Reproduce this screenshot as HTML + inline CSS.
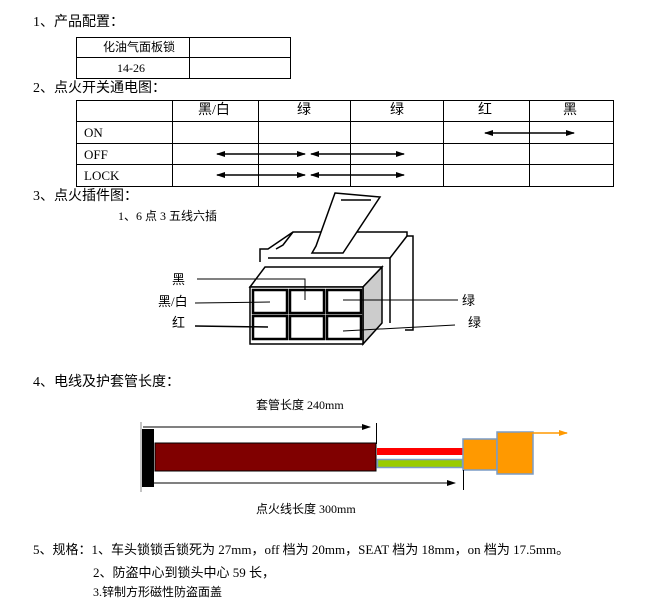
<!DOCTYPE html>
<html><head><meta charset="utf-8"><style>
body{margin:0;background:#fff;width:653px;height:611px;position:relative;overflow:hidden;font-family:"Liberation Serif","Noto Sans CJK SC",serif;font-size:13px;color:#000}
.t{position:absolute;white-space:nowrap;line-height:1}
svg{position:absolute;left:0;top:0}
</style></head><body>
<svg width="653" height="611" viewBox="0 0 653 611">
<defs>
<marker id="a" markerUnits="userSpaceOnUse" markerWidth="9" markerHeight="7" refX="8" refY="3.5" orient="auto"><path d="M0,0.5L9,3.5L0,6.5z" fill="#000"/></marker>
<marker id="b" markerUnits="userSpaceOnUse" markerWidth="9" markerHeight="7" refX="1" refY="3.5" orient="auto"><path d="M9,0.5L0,3.5L9,6.5z" fill="#000"/></marker>
<marker id="o" markerUnits="userSpaceOnUse" markerWidth="9" markerHeight="7" refX="8" refY="3.5" orient="auto"><path d="M0,0.5L9,3.5L0,6.5z" fill="#f90"/></marker>
</defs>
<g stroke="#000" stroke-width="1" fill="none">
<rect x="76.5" y="37.5" width="214" height="41"/>
<line x1="76" y1="57.5" x2="291" y2="57.5"/><line x1="189.5" y1="37" x2="189.5" y2="79"/>
<rect x="76.5" y="100.5" width="537" height="86"/>
<line x1="76" y1="121.5" x2="614" y2="121.5"/><line x1="76" y1="143.5" x2="614" y2="143.5"/><line x1="76" y1="164.5" x2="614" y2="164.5"/>
<line x1="172.5" y1="100" x2="172.5" y2="187"/><line x1="258.5" y1="100" x2="258.5" y2="187"/><line x1="350.5" y1="100" x2="350.5" y2="187"/><line x1="443.5" y1="100" x2="443.5" y2="187"/><line x1="529.5" y1="100" x2="529.5" y2="187"/>
</g>
<g stroke="#000" stroke-width="1.5" marker-start="url(#b)" marker-end="url(#a)">
<line x1="485" y1="133" x2="574" y2="133"/>
<line x1="217" y1="154" x2="305" y2="154"/><line x1="311" y1="154" x2="404" y2="154"/>
<line x1="217" y1="175" x2="305" y2="175"/><line x1="311" y1="175" x2="404" y2="175"/>
</g>
<g stroke="#000" stroke-width="1.5" fill="none">
<polyline points="260,262 260,249 268,249 293,232 407,232 407,236 413,236 413,330 405,330"/>
<polyline points="293,232 283,245 276,249"/>
<line x1="268" y1="258" x2="390" y2="258"/>
<line x1="390" y1="258" x2="407" y2="236"/>
<line x1="390" y1="258" x2="390" y2="323"/>
<polygon points="335,193 380,197 343,253 312,253 316,246" fill="#fff"/>
<line x1="341" y1="200" x2="371" y2="200"/>
<polygon points="250,287 265,267 382,267 363,287" fill="#fff"/>
<polygon points="363,287 382,267 382,323 363,344" fill="#ccc"/>
<rect x="250" y="287" width="113" height="57" fill="#fff"/>
<g stroke-width="2.5">
<rect x="253" y="290" width="34" height="23"/><rect x="290" y="290" width="34" height="23"/><rect x="327" y="290" width="34" height="23"/>
<rect x="253" y="316" width="34" height="23"/><rect x="290" y="316" width="34" height="23"/><rect x="327" y="316" width="34" height="23"/>
</g>
<polyline points="197,279 305,279 305,300" stroke-width="1"/>
<line x1="195" y1="303" x2="270" y2="302" stroke-width="1"/>
<line x1="195" y1="326" x2="268" y2="327" stroke-width="1.5"/>
<line x1="343" y1="300" x2="458" y2="300" stroke-width="1"/>
<line x1="343" y1="331" x2="455" y2="325" stroke-width="1"/>
</g>
<line x1="141" y1="422" x2="141" y2="492" stroke="#888" stroke-width="1"/>
<rect x="142" y="429" width="12" height="58" fill="#000"/>
<rect x="155" y="443" width="221" height="28" fill="#800000" stroke="#000" stroke-width="1"/>
<rect x="377" y="448" width="86" height="7" fill="#f00"/>
<rect x="377.5" y="459.5" width="85" height="8" fill="#9c0" stroke="#7a9cc6" stroke-width="1.5"/>
<rect x="463" y="439" width="34" height="31" fill="#f90" stroke="#7a9cc6" stroke-width="1.5"/>
<rect x="497" y="432" width="36" height="42" fill="#f90" stroke="#7a9cc6" stroke-width="1.5"/>
<line x1="520" y1="433" x2="567" y2="433" stroke="#f90" stroke-width="1.5" marker-end="url(#o)"/>
<line x1="143" y1="427" x2="370" y2="427" stroke="#000" stroke-width="1" marker-end="url(#a)"/>
<line x1="376.5" y1="423" x2="376.5" y2="444" stroke="#000" stroke-width="1"/>
<line x1="153" y1="483" x2="455" y2="483" stroke="#000" stroke-width="1" marker-end="url(#a)"/>
<line x1="463.5" y1="470" x2="463.5" y2="490" stroke="#000" stroke-width="1"/>
</svg>
<div class="t" style="left:33px;top:16px;font-size:14px">1、产品配置：</div>
<div class="t" style="left:103px;top:41px;font-size:12px">化油气面板锁</div>
<div class="t" style="left:117px;top:62px;font-size:12px">14-26</div>
<div class="t" style="left:33px;top:82px;font-size:14px">2、点火开关通电图：</div>
<div class="t" style="left:198px;top:104px;font-size:14px">黑/白</div>
<div class="t" style="left:297px;top:104px;font-size:14px">绿</div>
<div class="t" style="left:390px;top:104px;font-size:14px">绿</div>
<div class="t" style="left:478px;top:104px;font-size:14px">红</div>
<div class="t" style="left:563px;top:104px;font-size:14px">黑</div>
<div class="t" style="left:84px;top:126px">ON</div>
<div class="t" style="left:84px;top:148px">OFF</div>
<div class="t" style="left:84px;top:169px">LOCK</div>
<div class="t" style="left:33px;top:190px;font-size:14px">3、点火插件图：</div>
<div class="t" style="left:118px;top:210px;font-size:12px">1、6 点 3 五线六插</div>
<div class="t" style="left:172px;top:273px">黑</div>
<div class="t" style="left:158px;top:295px">黑/白</div>
<div class="t" style="left:172px;top:316px">红</div>
<div class="t" style="left:462px;top:294px">绿</div>
<div class="t" style="left:468px;top:316px">绿</div>
<div class="t" style="left:33px;top:376px;font-size:14px">4、电线及护套管长度：</div>
<div class="t" style="left:256px;top:399px;font-size:12px">套管长度 240mm</div>
<div class="t" style="left:256px;top:503px;font-size:12px">点火线长度 300mm</div>
<div class="t" style="left:33px;top:543px;font-size:13px">5、规格：1、车头锁锁舌锁死为 27mm，off 档为 20mm，SEAT 档为 18mm，on 档为 17.5mm。</div>
<div class="t" style="left:93px;top:566px;font-size:13px">2、防盗中心到锁头中心 59 长，</div>
<div class="t" style="left:93px;top:586px;font-size:12px">3.锌制方形磁性防盗面盖</div>
</body></html>
